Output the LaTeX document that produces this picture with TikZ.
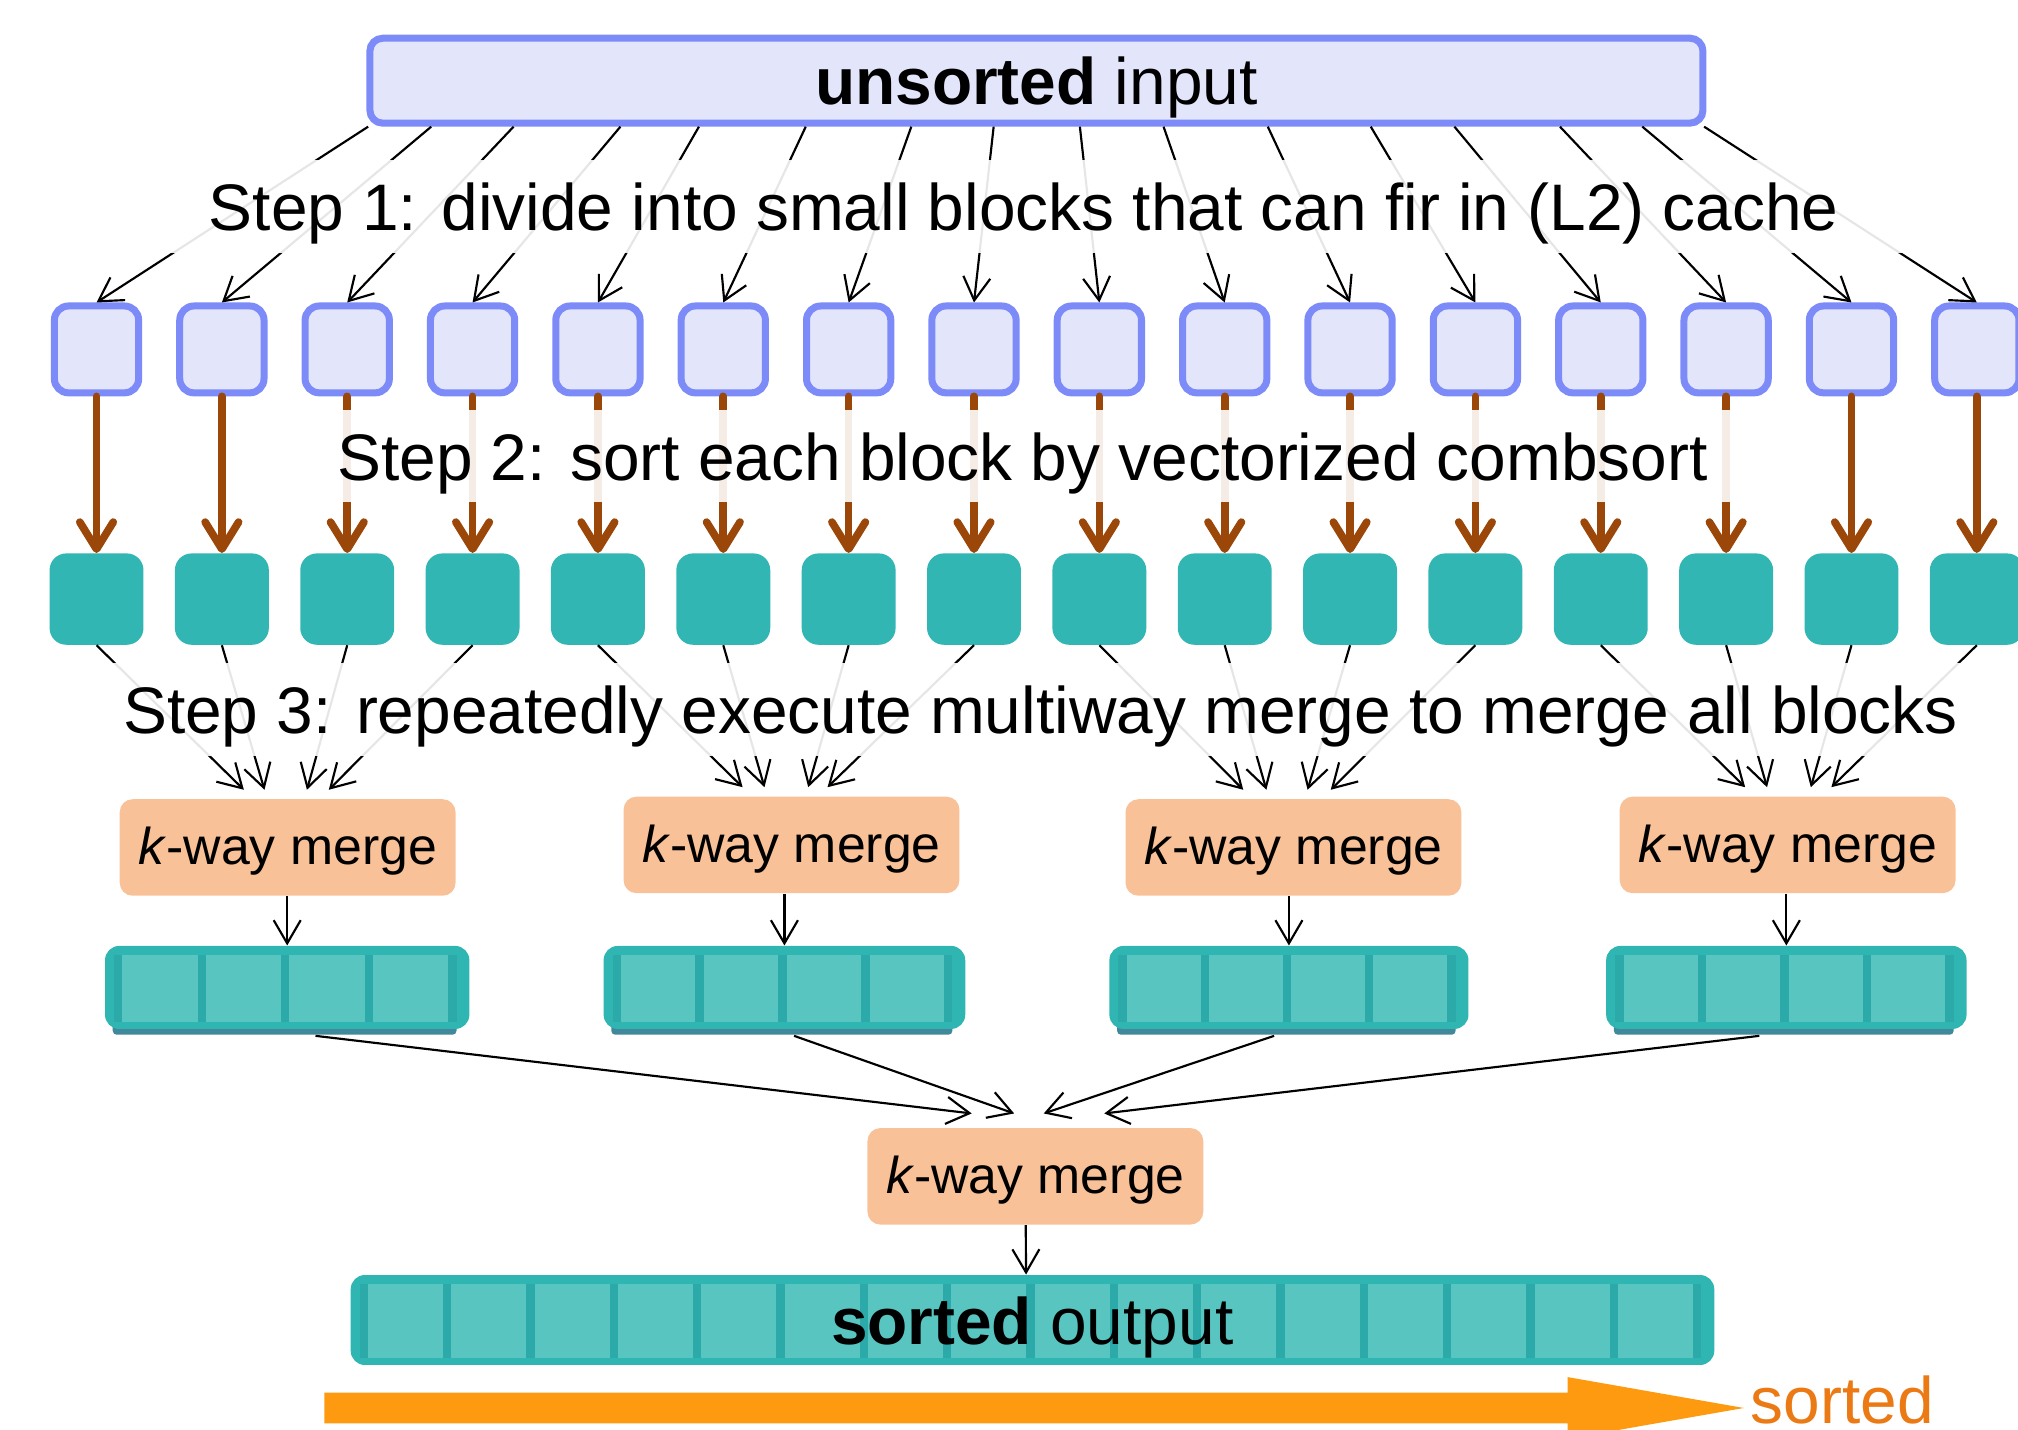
\documentclass[tikz,border=0pt]{standalone}
\usepackage{fontspec}
\setmainfont{Liberation Sans}
\usetikzlibrary{arrows.meta,calc}

\definecolor{lav}{HTML}{E3E5FB}
\definecolor{lavline}{HTML}{7C8BF8}
\definecolor{tealblk}{HTML}{31B6B3}
\definecolor{brownarr}{HTML}{9B470A}
\definecolor{peach}{HTML}{F9C197}
\definecolor{framecol}{HTML}{2FB5B2}
\definecolor{sepcol}{HTML}{2CAAAA}
\definecolor{cellcol}{HTML}{58C5C1}
\definecolor{shadecol}{HTML}{41889B}
\definecolor{orangearr}{HTML}{FE9A10}
\definecolor{orangetxt}{HTML}{EB7A15}

\newcommand{\bigfont}{\fontsize{29.1pt}{35pt}\selectfont}
\newcommand{\mergefont}{\fontsize{22.9pt}{27pt}\selectfont}

% an array of #6 cells inside a rounded teal frame: name, left, top, right, bottom, cells
\newcommand{\cellarray}[6]{%
  \node[arrayframe, minimum width={(#4-#2)*0.02cm}, minimum height={(#5-#3)*0.02cm}]
    (#1) at ({(#2+#4)/2},{(#3+#5)/2}) {};
  \fill[sepcol] ({#2+7},{#3+7}) rectangle ({#4-10},{#5-5.5});
  \pgfmathsetmacro\pitch{(#4-#2-17-6.5)/#6}%
  \pgfmathtruncatemacro\lastcell{#6-1}%
  \foreach \k in {0,...,\lastcell}{%
    \fill[cellcol] ({#2+7+6.5+\k*\pitch},{#3+7}) rectangle ++({\pitch-6.5},{#5-#3-12.5});
  }%
}
% dark strip under a small array
\newcommand{\arrayshade}[4]{%
  \fill[shadecol, rounded corners=0.06cm] ({#1+6},{#4-8}) rectangle ({#3-10},{#4+4.5});
}

\tikzset{
  rawblock/.style={draw=lavline, fill=lav, line width=3.1pt, rounded corners=0.22cm,
    minimum width=1.31cm, minimum height=1.35cm, inner sep=0},
  sortedblock/.style={fill=tealblk, rounded corners=0.26cm,
    minimum width=1.46cm, minimum height=1.42cm, inner sep=0},
  inbox/.style={draw=lavline, fill=lav, line width=3.1pt, rounded corners=0.2cm,
    minimum width=20.72cm, minimum height=1.32cm, inner sep=0, font=\bigfont,
    text height=24.9pt, text depth=3.7pt},
  mergebox/.style={fill=peach, rounded corners=0.2cm, minimum width=5.22cm,
    minimum height=1.5cm, inner sep=0, font=\mergefont,
    text height=17.2pt, text depth=1.8pt},
  arrayframe/.style={fill=framecol, rounded corners=0.22cm, inner sep=0},
  steptext/.style={font=\bigfont, fill=white, fill opacity=0.9, text opacity=1,
    inner sep=0, anchor=base, minimum height=1.44cm,
    text height=24.9pt, text depth=3.7pt},
  flow/.style={draw=black, line width=0.95pt,
    -{Straight Barb[length=0.36cm, width=0.42cm]}},
  sortarrow/.style={draw=brownarr, line width=3.4pt, line cap=round,
    -{Straight Barb[length=0.42cm, width=0.52cm, round]}},
}

\begin{document}
\begin{tikzpicture}[x=0.02cm, y=-0.02cm]
\useasboundingbox (0,0) rectangle (1568,1111);

% input
\node[inbox] (in) at (805.3,62.7) {\textbf{unsorted} input};

% the sixteen blocks, before and after sorting
\foreach \i in {0,...,15}{
  \pgfmathsetmacro\cx{75+97.4*\i}
  \node[rawblock] (r\i) at (\cx,271.5) {};
  \node[sortedblock] (s\i) at (\cx,465.5) {};
}

% step 1: split the input into blocks
\foreach \i/\sx in {0/286,1/335,2/399,3/482,4/543,5/626,6/708,7/772,
                    8/839,9/904,10/985,11/1065,12/1130,13/1212,14/1276,15/1324}{
  \draw[flow] ($(in.south west)+(\sx-284.6,0)$) -- (r\i.north);
}

% step 2: sort every block
\foreach \i in {0,...,15}{
  \draw[sortarrow] (r\i.south) -- (s\i.north);
}

% first merge level
\node[mergebox] (m1) at (223.5,658.5) {\textit{k}-way merge};
\node[mergebox] (m2) at (615,656.5) {\textit{k}-way merge};
\node[mergebox] (m3) at (1005,658.5) {\textit{k}-way merge};
\node[mergebox] (m4) at (1389,656.5) {\textit{k}-way merge};

% step 3: groups of four blocks into each merge
\foreach \b/\m/\dx in {0/m1/-34,1/m1/-18,2/m1/15,3/m1/32,
                       4/m2/-38,5/m2/-21,6/m2/13,7/m2/28,
                       8/m3/-39,9/m3/-21,10/m3/11,11/m3/29,
                       12/m4/-33,13/m4/-16,14/m4/18,15/m4/34}{
  \draw[flow] (s\b.south) -- ($(\m.north)+(\dx,-7)$);
}

% merged runs
\arrayshade{81.6}{735}{364.7}{799.5}
\cellarray{a1}{81.6}{735}{364.7}{799.5}{4}
\arrayshade{469}{735}{750}{799.5}
\cellarray{a2}{469}{735}{750}{799.5}{4}
\arrayshade{862}{735}{1141}{799.5}
\cellarray{a3}{862}{735}{1141}{799.5}{4}
\arrayshade{1248}{735}{1528}{799.5}
\cellarray{a4}{1248}{735}{1528}{799.5}{4}

\foreach \k in {1,...,4}{
  \draw[flow] (m\k.south -| a\k.north) -- (a\k.north);
}

% final merge
\node[mergebox] (fm) at (804.5,914) {\textit{k}-way merge};
\draw[flow] ($(a1.south)+(22,5)$) -- ($(fm.north)+(-49.5,-11)$);
\draw[flow] ($(a2.south)+(7.5,5)$) -- ($(fm.north)+(-16.5,-11)$);
\draw[flow] ($(a3.south)+(-11.5,5)$) -- ($(fm.north)+(6.5,-11)$);
\draw[flow] ($(a4.south)+(-21,5)$) -- ($(fm.north)+(53.5,-11)$);

% output
\cellarray{out}{272.5}{990.7}{1332}{1060.6}{16}
\node[font=\bigfont, inner sep=0, text height=24.9pt, text depth=3.7pt]
  (outlabel) at (802,1026.4) {\textbf{sorted} output};
\draw[flow] ($(fm.south)+(-7.5,0)$) -- ($(out.north)+(-5,0)$);

% direction of the sorted order
\fill[orangearr] (252,1082) -- (1218,1082) -- (1218,1070) -- (1355,1094)
  -- (1218,1118) -- (1218,1106) -- (252,1106) -- cycle;
\node[anchor=base west, inner sep=0, text=orangetxt, font=\bigfont]
  (sortlabel) at (1360,1106) {sorted};

% step captions on translucent bands
\node[steptext, minimum width=28cm] (step1) at (795.5,179)
  {Step 1: divide into small blocks that can fir in (L2) cache};
\node[steptext, minimum width=23.2cm] (step2) at (794.5,373)
  {Step 2: sort each block by vectorized combsort};
\node[steptext, minimum width=29.6cm] (step3) at (808.5,570)
  {Step 3: repeatedly execute multiway merge to merge all blocks};
\end{tikzpicture}
\end{document}
